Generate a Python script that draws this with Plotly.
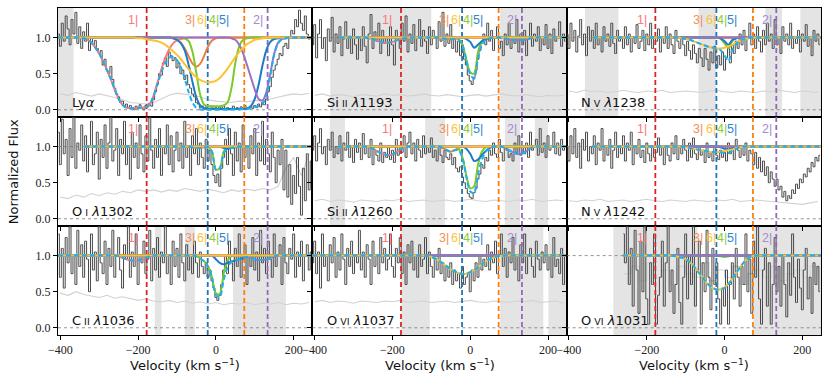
import plotly.graph_objects as go
from plotly.subplots import make_subplots

# ---------------- axes / reference values ----------------
V_RANGE = [-406, 248]
Y_RANGE = [-0.1, 1.41]
X_TICKS = [-400, -200, 0, 200]
Y_TICKS = [0.0, 0.5, 1.0]
Y_TICK_TEXT = ["0.0", "0.5", "1.0"]

# velocities of the dashed reference lines and their colours
VLINE_VEL = [-178, -21, 73, 133]
VLINE_COL = ["#d62728", "#1f77b4", "#ff7f0e", "#9467bd"]

# component labels
COMP_IDS = ["1", "3", "6", "4", "5", "2"]
COMP_LABEL_VEL = [-213, -67, -36, -6, 20, 108]
COMP_LABEL_Y = 1.24
COMP_LABEL_COL = {"1": "#f77b7b", "3": "#f0905a", "6": "#fbc43c", "4": "#8bcb3a", "5": "#2f86d0", "2": "#a68ad0"}
COMP_LINE_COL = {"1": "#f7787e", "3": "#e8813f", "6": "#fcc232", "4": "#7dc927", "5": "#1c7cc8", "2": "#9a73c6"}
TOTAL_COL = "#1cb0ec"

DATA_STEP = 5
ERR_STEP = 20
MODEL_STEP = 10

# ---------------- panel 1 : Ly alpha ----------------
LYA_FLUX = [1.05, 0.88, 1.2, 0.95, 1.3, 1.12, 0.9, 1.25, 1.05, 1.35,
            0.92, 1.15, 0.85, 1.08, 0.95, 1.2, 0.82, 1.0, 0.9, 0.96,
            0.85, 0.78, 0.82, 0.62, 0.7, 0.55, 0.5, 0.6, 0.42, 0.3,
            0.22, 0.18, 0.1, 0.12, 0.05, 0.08, 0.02, 0.06, 0.03, 0.0,
            0.05, 0.02, 0.07, 0.03, 0.0, 0.06, 0.04, 0.09, 0.05, 0.14,
            0.25, 0.35, 0.5, 0.48, 0.65, 0.72, 0.6, 0.8, 0.75, 0.68,
            0.72, 0.58, 0.65, 0.5, 0.55, 0.42, 0.48, 0.35, 0.3, 0.22,
            0.18, 0.1, 0.08, 0.03, 0.05, 0.01, 0.04, 0.0, 0.02, 0.05,
            0.01, 0.03, 0.0, 0.04, 0.02, 0.06, 0.01, 0.03, 0.0, 0.02,
            0.05, 0.01, 0.03, 0.0, 0.04, 0.02, 0.06, 0.01, 0.03, 0.05,
            0.02, 0.06, 0.03, 0.08, 0.04, 0.1, 0.07, 0.15, 0.25, 0.32,
            0.45, 0.55, 0.62, 0.7, 0.78, 0.75, 0.88, 0.92, 0.85, 1.0,
            1.1, 1.05, 1.25, 1.15, 1.38, 1.2, 1.1, 1.3, 1.05, 0.98,
            1.0]
LYA_ERR = [0.22, 0.2, 0.24, 0.21, 0.19, 0.22, 0.2, 0.17, 0.14, 0.1, 0.09, 0.08, 0.1, 0.15, 0.2, 0.23, 0.22,
           0.2, 0.18, 0.14, 0.12, 0.11, 0.1, 0.12, 0.11, 0.13, 0.12, 0.15, 0.18, 0.2, 0.22, 0.21, 0.23]
LYA_DIPS = {
    "1": (-340, [0.99, 0.97, 0.93, 0.86, 0.78, 0.67, 0.55, 0.42, 0.28, 0.15, 0.07, 0.03, 0.02, 0.02, 0.02,
                 0.03, 0.04, 0.08, 0.2, 0.38, 0.56, 0.72, 0.84, 0.92, 0.96, 0.98, 0.99]),
    "3": (-110, [0.99, 0.97, 0.93, 0.85, 0.74, 0.64, 0.6, 0.64, 0.75, 0.88, 0.96, 0.99]),
    "4": (-80, [0.99, 0.95, 0.8, 0.5, 0.2, 0.07, 0.05, 0.05, 0.05, 0.05, 0.06, 0.1, 0.3, 0.65, 0.88, 0.97, 0.99]),
    "5": (-110, [0.99, 0.97, 0.92, 0.82, 0.62, 0.38, 0.17, 0.06, 0.02, 0.01, 0.01, 0.01, 0.01, 0.01, 0.01,
                 0.01, 0.01, 0.01, 0.01, 0.02, 0.05, 0.15, 0.35, 0.62, 0.83, 0.94, 0.98, 0.99]),
    "2": (40, [0.99, 0.97, 0.9, 0.78, 0.62, 0.45, 0.28, 0.15, 0.13, 0.25, 0.5, 0.78, 0.93, 0.98, 0.99]),
    "6": (-200, [0.99, 0.99, 0.98, 0.97, 0.96, 0.95, 0.93, 0.9, 0.86, 0.81, 0.76, 0.7, 0.63, 0.56, 0.5, 0.45,
                 0.41, 0.39, 0.38, 0.385, 0.4, 0.44, 0.5, 0.57, 0.65, 0.73, 0.8, 0.86, 0.91, 0.94, 0.97, 0.98, 0.99]),
}
LYA_SHADE = [(-406, -366)]

# ---------------- panel 2 : Si II 1193 ----------------
SI1193_FLUX = [0.9, 1.18, 0.72, 1.05, 1.25, 0.85, 1.0, 0.68, 1.12, 0.95,
               1.28, 0.8, 1.05, 0.92, 1.15, 0.75, 0.98, 1.22, 0.85, 1.02,
               0.78, 1.12, 0.9, 0.7, 1.0, 0.82, 1.15, 0.88, 0.65, 1.05,
               1.32, 0.85, 1.08, 0.95, 1.2, 0.78, 1.1, 0.92, 1.0, 0.75,
               1.15, 0.9, 0.62, 1.1, 1.0, 0.85, 1.2, 0.95, 1.3, 0.8,
               1.05, 0.92, 1.18, 0.82, 1.0, 1.25, 0.88, 1.1, 0.95, 0.78,
               1.15, 0.9, 1.1, 1.0, 0.85, 1.22, 0.95, 1.35, 0.88, 1.05,
               0.92, 1.18, 0.85, 1.0, 0.8, 0.95, 0.75, 0.9, 0.7, 0.62,
               0.48, 0.4, 0.35, 0.45, 0.55, 0.7, 0.82, 0.95, 1.05, 0.9,
               1.2, 0.95, 1.1, 0.82, 1.0, 1.15, 0.85, 0.95, 0.75, 1.05,
               0.9, 1.2, 0.85, 1.0, 0.92, 1.25, 0.8, 1.05, 0.9, 1.1,
               0.75, 1.0, 1.2, 0.88, 1.05, 0.95, 1.15, 0.82, 1.0, 0.9,
               1.18, 0.85, 1.05, 0.78, 1.12, 0.95, 1.0, 1.22, 0.88, 1.05,
               0.95]
SI1193_ERR = [0.2, 0.22, 0.19, 0.21, 0.2, 0.18, 0.21, 0.2, 0.19, 0.22, 0.2, 0.21, 0.19, 0.2, 0.22, 0.2, 0.19,
              0.21, 0.2, 0.18, 0.2, 0.21, 0.19, 0.2, 0.22, 0.2, 0.19, 0.21, 0.2, 0.18, 0.2, 0.19, 0.2]
SI1193_DIPS = {
    "1": (-260, [0.99, 0.98, 0.96, 0.94, 0.93, 0.93, 0.94, 0.96, 0.98, 0.99]),
    "3": (-70, [0.99, 0.98, 0.975, 0.98, 0.99]),
    "4": (-30, [0.98, 0.9, 0.7, 0.52, 0.5, 0.8, 0.95, 0.99]),
    "5": (-10, [0.98, 0.94, 0.86, 0.9, 0.95, 0.98, 0.99]),
    "2": (90, [0.99, 0.98, 0.97, 0.965, 0.965, 0.97, 0.985, 0.995]),
}
SI1193_SHADE = [(-360, -100), (77, 248)]

# ---------------- panel 3 : N V 1238 ----------------
NV1238_FLUX = [1.05, 0.85, 1.2, 0.95, 1.1, 0.8, 1.02, 1.25, 0.9, 1.05,
               0.75, 1.15, 0.95, 1.1, 0.85, 1.2, 0.9, 1.0, 0.8, 1.15,
               0.95, 1.05, 0.88, 1.2, 0.92, 0.78, 1.1, 0.95, 1.0, 0.85,
               1.15, 0.9, 1.05, 0.8, 1.0, 0.92, 1.18, 0.85, 0.95, 1.1,
               0.82, 1.05, 0.9, 1.2, 0.85, 1.0, 0.95, 1.12, 0.8, 1.0,
               0.92, 1.15, 0.85, 1.05, 0.9, 0.78, 1.1, 0.95, 0.85, 1.0,
               0.9, 0.75, 0.95, 0.82, 0.7, 0.9, 0.78, 0.65, 0.85, 0.72,
               0.6, 0.85, 0.7, 0.55, 0.8, 0.65, 0.88, 0.58, 0.75, 0.62,
               0.8, 0.55, 0.72, 0.85, 0.65, 0.9, 0.78, 0.95, 0.85, 1.05,
               0.9, 1.1, 0.82, 1.0, 1.2, 0.9, 1.05, 0.85, 1.15, 0.95,
               0.8, 1.1, 0.9, 1.2, 0.95, 1.05, 0.85, 1.25, 0.9, 1.0,
               0.78, 1.15, 0.95, 1.05, 0.9, 1.2, 0.85, 1.0, 0.92, 1.1,
               0.8, 1.05, 0.95, 1.18, 0.88, 1.0, 0.75, 1.1, 0.95, 1.05,
               0.9]
NV1238_ERR = [0.26, 0.24, 0.27, 0.25, 0.26, 0.24, 0.25, 0.27, 0.25, 0.24, 0.26, 0.25, 0.27, 0.24, 0.25, 0.26, 0.25,
              0.24, 0.26, 0.27, 0.25, 0.24, 0.26, 0.25, 0.24, 0.26, 0.25, 0.27, 0.25, 0.24, 0.26, 0.25, 0.24]
NV1238_DIPS = {
    "4": (-10, [0.98, 0.92, 0.85, 0.95, 0.99]),
    "5": (-10, [0.99, 0.95, 0.9, 0.97, 0.99]),
    "6": (-110, [0.99, 0.98, 0.97, 0.95, 0.93, 0.91, 0.89, 0.87, 0.86, 0.85, 0.85, 0.86, 0.88, 0.9, 0.93, 0.96, 0.98, 0.99]),
}
NV1238_SHADE = [(-359, -273), (-67, -22), (105, 148), (195, 248)]

# ---------------- panel 4 : O I 1302 ----------------
OI1302_FLUX = [1.2, 0.75, 1.38, 0.9, 1.1, 0.6, 1.25, 0.85, 1.45, 0.7,
               1.05, 0.95, 1.3, 0.8, 1.15, 0.65, 1.0, 1.35, 0.75, 0.9,
               1.2, 0.55, 1.1, 0.85, 1.3, 0.7, 1.05, 1.42, 0.8, 0.95,
               1.25, 0.6, 1.1, 0.9, 1.35, 0.75, 1.0, 0.55, 1.2, 0.85,
               1.05, 0.7, 1.3, 0.9, 0.65, 1.15, 0.8, 1.4, 0.95, 0.7,
               1.1, 0.85, 1.25, 0.6, 1.0, 0.9, 1.3, 0.75, 1.15, 0.65,
               0.95, 1.2, 0.8, 1.05, 0.7, 1.35, 0.85, 1.0, 0.6, 1.15,
               0.9, 1.25, 0.75, 1.05, 0.85, 0.7, 1.1, 0.8, 0.95, 0.75,
               0.6, 0.5, 0.62, 0.45, 0.7, 0.85, 1.1, 0.75, 1.25, 0.9,
               0.6, 1.2, 0.8, 1.05, 0.65, 1.3, 0.85, 1.0, 0.7, 1.15,
               0.9, 1.25, 0.6, 1.05, 0.8, 1.35, 0.75, 1.1, 0.9, 0.65,
               1.2, 0.85, 0.5, 0.95, 0.75, 1.1, 0.4, 0.95, 0.3, 0.75,
               0.2, 0.6, 0.35, 0.85, 0.45, 0.05, 0.7, 0.25, 0.9, 0.4,
               0.8]
OI1302_ERR = [0.3, 0.28, 0.33, 0.3, 0.35, 0.32, 0.36, 0.34, 0.38, 0.36, 0.4, 0.38, 0.4, 0.37, 0.4, 0.38, 0.42,
              0.4, 0.38, 0.41, 0.39, 0.36, 0.4, 0.38, 0.41, 0.39, 0.42, 0.4, 0.45, 0.7, 0.85, 0.6, 0.9]
OI1302_DIPS = {
    "3": (-60, [0.99, 0.98, 0.98, 0.99]),
    "4": (-20, [0.995, 0.93, 0.68, 0.7, 0.93, 0.995]),
    "5": (20, [0.98, 0.97, 0.98, 0.99]),
}
OI1302_SHADE = []

# ---------------- panel 5 : Si II 1260 ----------------
SI1260_FLUX = [0.95, 1.15, 0.8, 1.05, 1.25, 0.9, 1.0, 0.75, 1.1, 0.95,
               1.2, 0.85, 1.0, 0.9, 1.15, 0.8, 1.05, 0.95, 1.2, 0.85,
               1.0, 0.78, 1.1, 0.92, 1.05, 0.82, 1.18, 0.9, 1.0, 0.85,
               1.1, 0.75, 0.95, 0.88, 0.8, 1.05, 0.78, 0.92, 0.85, 1.0,
               0.82, 0.95, 0.78, 1.1, 0.88, 1.0, 0.92, 1.15, 0.85, 1.05,
               1.2, 0.9, 1.05, 0.8, 1.1, 0.95, 0.85, 1.15, 0.9, 1.0,
               0.92, 1.12, 0.85, 0.95, 0.8, 1.0, 0.88, 0.78, 0.95, 0.85,
               0.82, 0.9, 0.75, 0.85, 0.7, 0.65, 0.72, 0.58, 0.5, 0.42,
               0.35, 0.3, 0.28, 0.36, 0.42, 0.55, 0.62, 0.75, 0.7, 0.85,
               0.8, 0.95, 0.88, 1.05, 0.9, 0.85, 1.1, 0.92, 0.8, 1.0,
               0.95, 0.85, 0.9, 0.8, 1.05, 0.92, 1.15, 0.88, 1.0, 0.9,
               1.05, 0.85, 1.2, 0.95, 1.0, 1.1, 0.88, 1.25, 0.92, 1.05,
               0.85, 1.15, 0.95, 1.0, 1.2, 0.9, 1.05, 0.88, 1.1, 0.95,
               1.0]
SI1260_ERR = [0.25, 0.27, 0.24, 0.26, 0.25, 0.23, 0.26, 0.25, 0.24, 0.26, 0.25, 0.27, 0.24, 0.25, 0.26, 0.24, 0.25,
              0.26, 0.24, 0.25, 0.27, 0.25, 0.24, 0.26, 0.25, 0.24, 0.26, 0.25, 0.27, 0.24, 0.25, 0.26, 0.25]
SI1260_DIPS = {
    "1": (-260, [0.99, 0.97, 0.94, 0.91, 0.89, 0.88, 0.89, 0.92, 0.96, 0.99]),
    "3": (-70, [0.98, 0.95, 0.93, 0.95, 0.98]),
    "4": (-30, [0.97, 0.85, 0.6, 0.42, 0.45, 0.75, 0.93, 0.99]),
    "5": (-10, [0.97, 0.9, 0.8, 0.82, 0.88, 0.94, 0.98]),
    "2": (90, [0.98, 0.95, 0.92, 0.9, 0.9, 0.92, 0.96, 0.99]),
}
SI1260_SHADE = [(-361, -322), (-116, -65), (89, 128), (166, 200)]

# ---------------- panel 6 : N V 1242 ----------------
NV1242_FLUX = [1.0, 0.8, 1.15, 0.9, 1.25, 0.85, 1.05, 0.7, 1.1, 0.95,
               1.2, 0.8, 1.0, 0.9, 1.15, 0.75, 1.05, 0.95, 1.25, 0.8,
               1.0, 0.88, 1.1, 0.7, 0.95, 1.2, 0.85, 1.0, 0.9, 1.15,
               0.8, 1.05, 0.95, 1.2, 0.75, 1.0, 0.9, 1.1, 0.85, 0.95,
               0.78, 1.05, 0.9, 0.8, 1.0, 0.85, 0.92, 1.12, 0.88, 1.0,
               0.75, 1.0, 0.88, 0.8, 1.05, 0.9, 1.15, 0.82, 1.0, 0.9,
               1.1, 0.95, 0.8, 1.05, 0.85, 1.12, 0.9, 0.82, 1.0, 0.88,
               0.95, 0.78, 1.05, 0.85, 0.92, 0.8, 1.0, 0.88, 0.82, 0.95,
               0.85, 0.92, 0.8, 1.05, 0.9, 1.0, 0.82, 1.1, 0.95, 0.85,
               1.0, 0.88, 1.05, 0.8, 0.95, 0.9, 0.75, 0.92, 0.7, 0.85,
               0.65, 0.8, 0.6, 0.72, 0.5, 0.65, 0.55, 0.45, 0.55, 0.4,
               0.45, 0.3, 0.38, 0.25, 0.32, 0.28, 0.4, 0.35, 0.48, 0.42,
               0.55, 0.5, 0.62, 0.58, 0.7, 0.65, 0.78, 0.72, 0.85, 0.8,
               0.88]
NV1242_ERR = [0.25, 0.24, 0.26, 0.25, 0.27, 0.24, 0.25, 0.26, 0.24, 0.25, 0.27, 0.25, 0.24, 0.26, 0.25, 0.24, 0.26,
              0.25, 0.24, 0.26, 0.25, 0.27, 0.24, 0.25, 0.26, 0.25, 0.24, 0.23, 0.22, 0.2, 0.2, 0.22, 0.24]
NV1242_DIPS = {
    "5": (-10, [0.99, 0.97, 0.96, 0.98, 0.99]),
    "6": (-100, [0.99, 0.98, 0.97, 0.96, 0.95, 0.94, 0.93, 0.925, 0.925, 0.93, 0.94, 0.95, 0.96, 0.98, 0.99]),
}
NV1242_SHADE = []

# ---------------- panel 7 : C II 1036 ----------------
CII1036_FLUX = [1.3, 0.7, 1.1, 0.55, 1.25, 0.9, 1.4, 0.75, 1.0, 0.6,
                1.35, 0.85, 1.15, 0.7, 1.2, 0.95, 0.5, 1.3, 0.8, 1.05,
                0.65, 1.4, 0.9, 0.75, 1.2, 0.6, 1.1, 0.85, 1.35, 0.7,
                1.0, 1.25, 0.8, 0.55, 1.15, 0.95, 1.4, 0.7, 1.05, 0.85,
                1.3, 0.6, 1.0, 0.9, 1.2, 0.75, 0.95, 1.35, 0.65, 1.1,
                0.8, 1.25, 0.7, 1.05, 0.9, 1.4, 0.75, 1.0, 0.6, 1.2,
                0.85, 1.1, 0.7, 1.3, 0.9, 0.65, 1.15, 0.8, 1.0, 0.75,
                1.2, 0.9, 0.7, 1.05, 0.85, 0.75, 0.9, 0.7, 0.8, 0.65,
                0.55, 0.42, 0.38, 0.45, 0.6, 0.8, 1.0, 0.75, 1.2, 0.9,
                0.65, 1.1, 0.85, 1.3, 0.7, 0.95, 1.15, 0.6, 1.0, 0.85,
                1.25, 0.8, 1.05, 0.65, 1.35, 0.9, 1.1, 0.75, 1.2, 0.95,
                0.7, 1.3, 0.85, 1.0, 1.15, 0.6, 1.25, 0.9, 0.75, 1.1,
                0.95, 1.3, 0.7, 1.05, 0.85, 1.2, 0.65, 1.0, 1.15, 0.8,
                1.05]
CII1036_ERR = [0.48, 0.45, 0.5, 0.46, 0.44, 0.42, 0.45, 0.41, 0.43, 0.4, 0.38, 0.4, 0.37, 0.36, 0.38, 0.35, 0.37,
               0.34, 0.36, 0.33, 0.35, 0.32, 0.34, 0.33, 0.35, 0.32, 0.34, 0.33, 0.35, 0.32, 0.34, 0.33, 0.35]
CII1036_DIPS = {
    "1": (-250, [0.99, 0.97, 0.95, 0.935, 0.93, 0.935, 0.95, 0.97, 0.99]),
    "4": (-50, [0.99, 0.96, 0.92, 0.85, 0.7, 0.48, 0.47, 0.75, 0.93, 0.99]),
    "5": (0, [0.95, 0.9, 0.88, 0.9, 0.92, 0.93, 0.95, 0.97, 0.99]),
    "2": (80, [0.99, 0.97, 0.95, 0.94, 0.94, 0.95, 0.97, 0.99]),
}
CII1036_SHADE = [(-157, -140), (-80, -54), (44, 180)]

# ---------------- panel 8 : O VI 1037 ----------------
OVI1037_FLUX = [0.9, 1.2, 0.75, 1.05, 0.55, 1.3, 0.85, 1.0, 0.65, 1.15,
                0.9, 1.25, 0.7, 1.05, 0.8, 1.3, 0.95, 0.6, 1.1, 0.85,
                1.2, 0.75, 1.0, 0.9, 1.35, 0.8, 1.05, 0.7, 1.15, 0.95,
                0.6, 1.2, 0.85, 1.0, 0.75, 1.25, 0.9, 1.1, 0.8, 0.95,
                1.3, 0.85, 0.7, 1.1, 0.9, 1.25, 0.75, 1.05, 0.6, 1.15,
                0.9, 1.2, 0.8, 1.0, 0.7, 1.15, 0.85, 0.95, 1.25, 0.75,
                1.05, 0.85, 0.7, 0.95, 0.8, 1.1, 0.75, 0.9, 0.65, 0.85,
                0.7, 0.9, 0.6, 0.8, 0.65, 0.75, 0.55, 0.85, 0.6, 0.7,
                0.75, 0.5, 0.8, 0.65, 0.9, 0.7, 1.0, 0.8, 0.95, 0.85,
                1.15, 0.8, 1.05, 0.9, 1.2, 0.75, 1.0, 1.3, 0.85, 1.1,
                0.7, 1.05, 0.9, 1.25, 0.8, 1.0, 0.65, 1.15, 0.9, 1.3,
                0.75, 1.0, 1.1, 0.85, 0.7, 1.2, 0.95, 0.8, 1.05, 0.9,
                1.15, 0.8, 1.0, 0.7, 1.25, 0.85, 0.95, 0.75, 1.1, 0.6,
                1.0]
OVI1037_ERR = [0.36, 0.38, 0.35, 0.37, 0.36, 0.34, 0.37, 0.36, 0.35, 0.37, 0.36, 0.38, 0.35, 0.36, 0.37, 0.35, 0.36,
               0.37, 0.35, 0.36, 0.38, 0.36, 0.35, 0.37, 0.36, 0.35, 0.37, 0.36, 0.38, 0.35, 0.36, 0.37, 0.34]
OVI1037_DIPS = {
    "6": (-110, [0.995, 0.98, 0.96, 0.93, 0.89, 0.85, 0.81, 0.78, 0.76, 0.745, 0.75, 0.77, 0.8, 0.84, 0.88,
                 0.92, 0.95, 0.97, 0.99, 0.995]),
}
OVI1037_SHADE = [(-177, -104), (77, 188), (201, 248)]

# ---------------- panel 9 : O VI 1031 ----------------
OVI1031_FLUX = [1.3, 0.9, 1.4, 0.6, 1.1, 0.3, 1.35, 0.8, 0.2, 1.2,
                0.5, 1.4, 0.4, 0.05, 0.9, 0.6, 1.3, 0.05, 0.45, 0.7,
                1.2, 0.3, 0.9, 1.4, 0.5, 0.8, 0.2, 0.6, 1.1, 0.35,
                0.05, 0.7, 1.3, 0.4, 1.0, 0.6, 1.4, 0.3, 0.8, 1.2,
                0.05, 0.9, 0.5, 1.35, 0.7, 0.25, 1.1, 0.6, 0.9, 0.4,
                0.05, 0.55, 0.3, 0.8, 0.05, 0.6, 0.9, 0.4, 1.1, 0.7,
                0.3, 0.85, 0.6, 1.3, 0.5, 0.95, 0.2, 1.2, 0.7, 1.4,
                0.4, 0.05, 0.8, 1.1, 0.3, 0.9, 0.05, 0.6, 1.25, 0.5,
                0.85, 0.3, 1.0, 0.6, 0.15, 0.9, 0.45, 1.3, 0.7, 0.35,
                0.95, 0.55, 0.25, 0.8, 1.1, 0.4, 0.7, 0.2, 0.9, 0.6,
                0.85, 0.5]
OVI1031_ERR = [0.75, 0.85, 0.65, 0.9, 0.7, 0.8, 0.6, 0.85, 0.75, 0.7, 0.9, 0.65, 0.8, 0.7, 0.85, 0.6, 0.75,
               0.8, 0.7, 0.85, 0.65, 0.75, 0.8, 0.7, 0.85, 0.75]
OVI1031_DIPS = {
    "4": (-10, [0.99, 0.98, 0.99]),
    "6": (-130, [0.995, 0.985, 0.97, 0.95, 0.91, 0.86, 0.79, 0.72, 0.65, 0.59, 0.55, 0.53, 0.535, 0.56, 0.61,
                 0.68, 0.76, 0.84, 0.91, 0.96, 0.99]),
}
OVI1031_SHADE = [(-286, -70), (75, 248)]

PANELS = [
    dict(label="Ly<i>α</i>", flux=LYA_FLUX, fv0=-405, err=LYA_ERR, ev0=-400, span=(-406, 248), dips=LYA_DIPS, shade=LYA_SHADE),
    dict(label="Si<span style='font-size:9.5px'> II</span> <i>λ</i>1193", flux=SI1193_FLUX, fv0=-405, err=SI1193_ERR, ev0=-400, span=(-336, 248), dips=SI1193_DIPS, shade=SI1193_SHADE),
    dict(label="N<span style='font-size:9.5px'> V</span> <i>λ</i>1238", flux=NV1238_FLUX, fv0=-405, err=NV1238_ERR, ev0=-400, span=(-338, 248), dips=NV1238_DIPS, shade=NV1238_SHADE),
    dict(label="O<span style='font-size:9.5px'> I</span> <i>λ</i>1302", flux=OI1302_FLUX, fv0=-405, err=OI1302_ERR, ev0=-400, span=(-338, 248), dips=OI1302_DIPS, shade=OI1302_SHADE),
    dict(label="Si<span style='font-size:9.5px'> II</span> <i>λ</i>1260", flux=SI1260_FLUX, fv0=-405, err=SI1260_ERR, ev0=-400, span=(-340, 248), dips=SI1260_DIPS, shade=SI1260_SHADE),
    dict(label="N<span style='font-size:9.5px'> V</span> <i>λ</i>1242", flux=NV1242_FLUX, fv0=-405, err=NV1242_ERR, ev0=-400, span=(-340, 248), dips=NV1242_DIPS, shade=NV1242_SHADE),
    dict(label="C<span style='font-size:9.5px'> II</span> <i>λ</i>1036", flux=CII1036_FLUX, fv0=-405, err=CII1036_ERR, ev0=-400, span=(-406, 248), dips=CII1036_DIPS, shade=CII1036_SHADE),
    dict(label="O<span style='font-size:9.5px'> VI</span> <i>λ</i>1037", flux=OVI1037_FLUX, fv0=-405, err=OVI1037_ERR, ev0=-400, span=(-406, 248), dips=OVI1037_DIPS, shade=OVI1037_SHADE),
    dict(label="O<span style='font-size:9.5px'> VI</span> <i>λ</i>1031", flux=OVI1031_FLUX, fv0=-260, err=OVI1031_ERR, ev0=-260, span=(-261, 248), dips=OVI1031_DIPS, shade=OVI1031_SHADE),
]

# ---------------- build figure ----------------
fig = make_subplots(rows=3, cols=3, horizontal_spacing=0, vertical_spacing=0)

SERIF = "Liberation Serif"
SANS = "DejaVu Sans"
LABEL_SANS = "Liberation Sans"


def model_curves(p):
    lo, hi = p["span"]
    grid = [lo] + [v for v in range(-410, 260, MODEL_STEP) if lo < v < hi] + [hi]
    comps = {}
    for cid in COMP_IDS:
        table = {}
        if cid in p["dips"]:
            start, vals = p["dips"][cid]
            for k, val in enumerate(vals):
                table[start + MODEL_STEP * k] = val
        comps[cid] = [table.get(v, 1.0) for v in grid]
    total = []
    for j in range(len(grid)):
        prod = 1.0
        for cid in COMP_IDS:
            prod *= comps[cid][j]
        total.append(prod)
    return grid, comps, total


for idx, p in enumerate(PANELS):
    r, c = idx // 3 + 1, idx % 3 + 1
    n = idx + 1
    xr = "x" if n == 1 else f"x{n}"
    yr = "y" if n == 1 else f"y{n}"

    for (a, b) in p["shade"]:
        fig.add_shape(type="rect", xref=xr, yref=f"{yr} domain", x0=a, x1=b, y0=0, y1=1,
                      fillcolor="#e4e4e4", line=dict(width=0), layer="below")

    ev = [p["ev0"] + ERR_STEP * k for k in range(len(p["err"]))]
    fig.add_trace(go.Scatter(x=ev, y=p["err"], mode="lines",
                             line=dict(color="#d2d2d2", width=1.1, shape="hv" if n == 9 else "linear"),
                             hoverinfo="skip"), row=r, col=c)
    fv = [p["fv0"] + DATA_STEP * k for k in range(len(p["flux"]))]
    fig.add_trace(go.Scatter(x=fv, y=p["flux"], mode="lines",
                             line=dict(color="#484848", width=1.0, shape="hvh"), hoverinfo="skip"),
                  row=r, col=c)
    # dotted reference levels
    for lvl in (0.0, 1.0):
        fig.add_trace(go.Scatter(x=V_RANGE, y=[lvl, lvl], mode="lines",
                                 line=dict(color="#777777", width=0.8, dash="dot"), hoverinfo="skip"),
                      row=r, col=c)
    # dashed velocity markers
    for vv, col in zip(VLINE_VEL, VLINE_COL):
        fig.add_trace(go.Scatter(x=[vv, vv], y=Y_RANGE, mode="lines",
                                 line=dict(color=col, width=1.8, dash="5px,3px"), hoverinfo="skip"),
                      row=r, col=c)
    # model components
    grid, comps, total = model_curves(p)
    for cid in ["1", "3", "4", "5", "2", "6"]:
        fig.add_trace(go.Scatter(x=grid, y=comps[cid], mode="lines",
                                 line=dict(color=COMP_LINE_COL[cid], width=2, shape="spline", smoothing=0.8),
                                 hoverinfo="skip"), row=r, col=c)
    fig.add_trace(go.Scatter(x=grid, y=total, mode="lines",
                             line=dict(color=TOTAL_COL, width=2, dash="5px,3px", shape="spline", smoothing=0.8),
                             hoverinfo="skip"), row=r, col=c)

    # component labels
    for cid, vl in zip(COMP_IDS, COMP_LABEL_VEL):
        fig.add_annotation(x=vl, y=COMP_LABEL_Y, xref=xr, yref=yr, text=f"{cid}|", showarrow=False,
                           font=dict(family=LABEL_SANS, size=12.5, color=COMP_LABEL_COL[cid]),
                           xanchor="center", yanchor="middle")
    # panel label
    fig.add_annotation(x=-374, y=0.1, xref=xr, yref=yr, text=p["label"], showarrow=False,
                       font=dict(family=SANS, size=13, color="#111111"), xanchor="left", yanchor="middle")

    fig.update_xaxes(row=r, col=c, range=V_RANGE, tickvals=X_TICKS, ticks="outside", ticklen=4,
                     tickcolor="black", showline=True, mirror=True, linecolor="black", linewidth=1,
                     showgrid=False, zeroline=False, showticklabels=(r == 3),
                     tickfont=dict(family=SERIF, size=12, color="#222222"))
    fig.update_yaxes(row=r, col=c, range=Y_RANGE, tickvals=Y_TICKS, ticktext=Y_TICK_TEXT, ticks="outside",
                     ticklen=4, tickcolor="black", showline=True, mirror=True, linecolor="black", linewidth=1,
                     showgrid=False, zeroline=False, showticklabels=(c == 1),
                     tickfont=dict(family=SERIF, size=12, color="#222222"))

for cx in (1 / 6, 0.5, 5 / 6):
    fig.add_annotation(x=cx, y=-0.092, xref="paper", yref="paper", text="Velocity (km s<sup>−1</sup>)",
                       showarrow=False, font=dict(family=SANS, size=13, color="#111111"),
                       xanchor="center", yanchor="middle")
fig.add_annotation(x=-0.058, y=0.5, xref="paper", yref="paper", text="Normalized Flux", textangle=-90,
                   showarrow=False, font=dict(family=SANS, size=13, color="#111111"),
                   xanchor="center", yanchor="middle")

fig.update_layout(width=831, height=386, margin=dict(l=58, r=10, t=8, b=51, autoexpand=False),
                  plot_bgcolor="white", paper_bgcolor="white", showlegend=False)

fig.write_html("out.html", config={"displayModeBar": False},
               post_script="document.body.style.margin='0';document.body.style.overflow='hidden';")
